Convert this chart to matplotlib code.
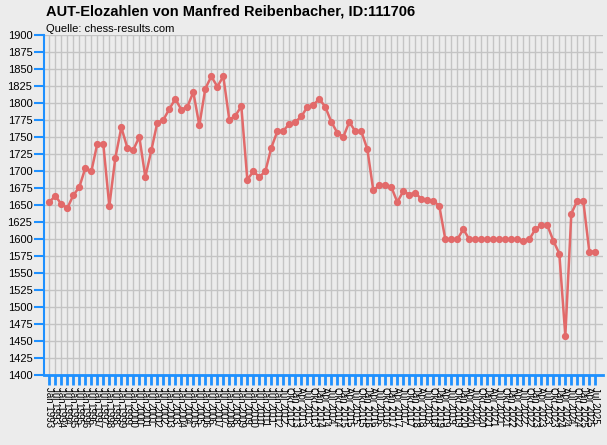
import numpy as np
import matplotlib.pyplot as plt

plt.rcParams['font.family'] = ['Liberation Sans', 'DejaVu Sans']

# rating lists: half-yearly up to Jul 2012, then quarterly
labels = []
for yr in range(1993, 2013):
    labels += ['Jan %d' % yr, 'Jul %d' % yr]
labels.append('Okt 2012')
for yr in range(2013, 2025):
    labels += ['Jan %d' % yr, 'Apr %d' % yr, 'Jul %d' % yr, 'Okt %d' % yr]
labels += ['Jan 2025', 'Apr 2025', 'Jul 2025']

elo = [1654, 1663, 1651, 1645, 1664, 1676, 1704, 1699, 1740, 1739,
       1648, 1719, 1764, 1734, 1731, 1750, 1691, 1730, 1771, 1775,
       1791, 1806, 1790, 1794, 1816, 1767, 1821, 1839, 1824, 1839,
       1775, 1781, 1795, 1687, 1699, 1691, 1699, 1734, 1758, 1759,
       1769, 1772, 1780, 1794, 1797, 1806, 1794, 1772, 1756, 1750,
       1772, 1758, 1758, 1732, 1671, 1679, 1679, 1676, 1654, 1670,
       1665, 1668, 1658, 1657, 1656, 1648, 1599, 1599, 1599, 1614,
       1599, 1599, 1599, 1599, 1599, 1599, 1599, 1599, 1599, 1597,
       1599, 1614, 1620, 1620, 1597, 1578, 1457, 1637, 1656, 1655,
       1581, 1581]

labels = labels[:len(elo)]
x = np.arange(len(elo))

bg = '#ececec'
blue = '#1e90ff'
fig = plt.figure(figsize=(6.07, 4.45), dpi=100, facecolor=bg)
ax = fig.add_axes([43.5 / 607, 1 - 374.5 / 445, (602.7 - 43.5) / 607, (374.5 - 35) / 445])
ax.set_facecolor(bg)

ax.plot(x, elo, color='#e26a6a', lw=1.8, marker='o', ms=4.2, zorder=3)

ax.set_xlim(-0.97, len(elo) - 1 + 1.23)
ax.set_ylim(1400, 1900)
ax.set_yticks(np.arange(1400, 1901, 25))
ax.set_xticks(x)
ax.set_xticklabels(labels, rotation=270, fontsize=7)
ax.tick_params(axis='y', colors=blue, length=7, width=1.5, labelsize=8, labelcolor='black', pad=1)
ax.tick_params(axis='x', colors=blue, length=7, width=2, labelcolor='black', pad=2)
ax.grid(True, color='#c4c4c4', lw=1)
ax.set_axisbelow(True)

for s in ['top', 'right']:
    ax.spines[s].set_visible(False)
ax.spines['left'].set_color(blue)
ax.spines['left'].set_linewidth(1.5)
ax.spines['bottom'].set_color(blue)
ax.spines['bottom'].set_linewidth(2)

fig.text(46 / 607, 1 - 15.5 / 445, 'AUT-Elozahlen von Manfred Reibenbacher, ID:111706',
         fontsize=10.5, fontweight='bold', va='baseline')
fig.text(46 / 607, 1 - 31.5 / 445, 'Quelle: chess-results.com', fontsize=8, va='baseline')

fig.savefig('out.png', dpi=100, facecolor=bg)
